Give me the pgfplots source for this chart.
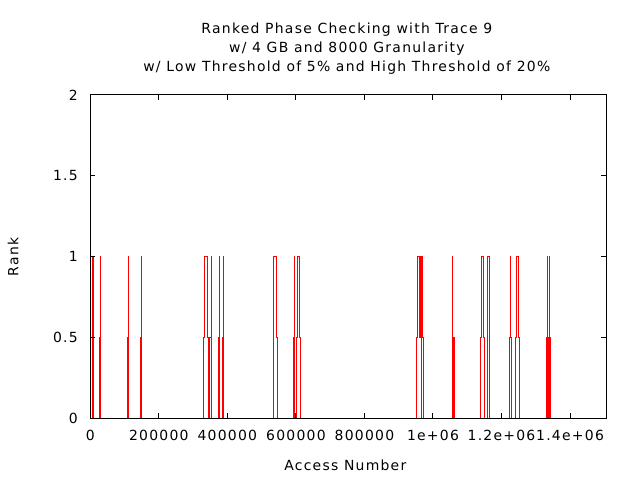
\documentclass[border=0pt]{standalone}
\usepackage{pgfplots}
\pgfplotsset{compat=1.18}
\usepackage{fontspec}
\setmainfont[LetterSpace=9]{DejaVu Sans}

% rank trace (gnuplot "steps" = const plot)
\pgfplotstableread{
x y
0 2
1500 1
5800 0
9900 1
10300 0
26300 0.5
29800 1
30400 0
108000 0.5
111000 1
112100 0
146000 0.5
147000 0
147500 0.5
148000 1
148900 0
331100 0.5
332900 1
341600 0.5
344600 0
346600 0.5
352400 1
353000 0
373800 0.5
376700 1
377900 0
385400 0.5
388400 1
389500 0
534400 1
543100 0.5
546000 0
592800 0.5
593700 0
594500 0.5
595700 1
596600 0
601500 0.5
604400 1
611500 0.5
613200 0
951900 0.5
954800 1
961800 0.5
962700 1
963600 0.5
964800 1
965600 0
966500 0.5
967700 1
969400 0.5
970000 1
970600 0.5
972400 0
1056200 0.5
1057000 1
1057900 0.5
1058800 0
1060000 0.5
1061400 0
1138800 0.5
1141700 1
1147600 0.5
1150500 0
1159200 1
1165100 0
1223500 0.5
1226400 1
1226800 0.5
1228400 0
1241000 0.5
1243900 1
1250900 0.5
1252700 0
1331500 0.5
1332200 0
1332800 0.5
1333500 0
1334100 0.5
1334400 1
1334800 0.5
1335400 0
1336000 0.5
1336700 0
1337300 0.5
1338000 0
1338600 0.5
1339200 0
1339800 0.5
1340300 1
1340700 0.5
1341300 0
1341800 0.5
1342300 0
1505000 0
}\ranktrace

\begin{document}
\begin{tikzpicture}
\path[use as bounding box] (-90.3bp,-62bp) rectangle (549.7bp,418bp);
\begin{axis}[
  at={(0,0)}, anchor=south west,
  scale only axis,
  width=515.7bp, height=323bp,
  xmin=0, xmax=1505000,
  ymin=0, ymax=2,
  xtick={0,200000,400000,600000,800000,1000000,1200000,1400000},
  xticklabels={0,200000,400000,600000,800000,1e+06,1.2e+06,1.4e+06},
  ytick={0,0.5,1,1.5,2},
  yticklabels={0,0.5,1,1.5,2},
  scaled ticks=false,
  tick align=inside,
  major tick length=5bp,
  axis line style={line width=1bp},
  tick style={line width=1bp, black},
  axis on top,
  /pgf/number format/assume math mode=true,
  every tick label/.append style={font=\fontsize{14}{16}\selectfont},
  xticklabel style={yshift=-9bp},
  yticklabel style={xshift=-9bp},
]
\addplot[const plot, red, line width=1bp] table[x=x, y=y] {\ranktrace};
\end{axis}
\node[align=center, font=\fontsize{14}{19}\selectfont, anchor=center] at (256.5bp,369bp)
  {Ranked Phase Checking with Trace 9\\w/ 4 GB and 8000 Granularity\\w/ Low Threshold of 5\% and High Threshold of 20\%};
\node[font=\fontsize{14}{16}\selectfont, anchor=center] at (255bp,-47bp) {Access Number};
\node[font=\fontsize{14}{16}\selectfont, anchor=center, rotate=90] at (-77bp,161bp) {Rank};
\end{tikzpicture}
\end{document}
